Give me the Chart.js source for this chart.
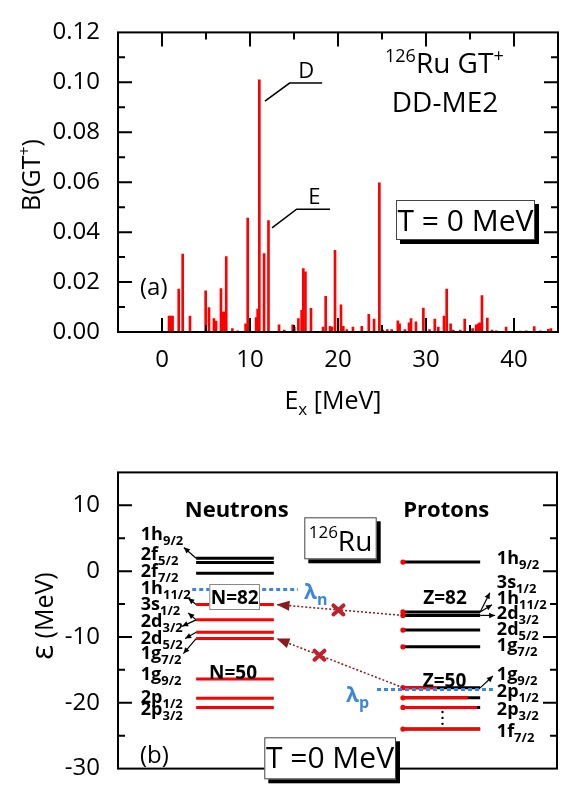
<!DOCTYPE html>
<html><head><meta charset="utf-8">
<script src="https://cdn.jsdelivr.net/npm/chart.js@4.4.0/dist/chart.umd.min.js"></script>
<style>
html,body{margin:0;padding:0;background:#fff;}
#wrap{position:relative;width:572px;height:801px;overflow:hidden;}
#c1{position:absolute;left:0;top:0;}
#c2{position:absolute;left:0;top:440px;}
</style></head><body>
<div id="wrap"><canvas id="c1" width="572" height="440"></canvas><canvas id="c2" width="572" height="361"></canvas></div>
<script>
// ---------------- DATA (panel a) ----------------
const excitationEnergies = [0.8,1.0,1.2,1.9,2.35,3.18,4.96,5.34,5.9,6.14,6.7,6.97,7.1,7.3,8.0,8.6,9.5,9.74,10.7,10.87,11.06,11.6,12.1,13.3,13.9,14.85,15.03,15.5,15.87,16.06,16.3,16.93,18.3,18.6,19.1,19.3,19.66,20.34,20.6,21.0,21.7,22.7,23.5,24.1,24.7,25.1,25.6,26.1,26.8,27.0,27.6,28.07,28.3,28.86,29.7,30.4,31.0,31.4,32.05,32.35,32.8,33.1,33.9,34.4,35.3,35.7,35.95,36.1,36.36,36.97,37.5,38.0,39.1,40.7,41.4,42.3,43.0,43.9,44.2];
const gtStrengths = [0.0064,0.0064,0.0064,0.0172,0.0312,0.0064,0.0165,0.0098,0.0054,0.0044,0.0174,0.008,0.008,0.0302,0.0014,0.0005,0.0033,0.0456,0.0058,0.0092,0.101,0.0314,0.0446,0.0029,0.0008,0.0029,0.002,0.0054,0.0087,0.0254,0.0241,0.0095,0.002,0.0143,0.0023,0.002,0.0327,0.0109,0.0023,0.001,0.002,0.0023,0.0071,0.0052,0.0597,0.0008,0.001,0.001,0.0045,0.0033,0.001,0.0037,0.0054,0.0041,0.0096,0.001,0.0052,0.002,0.0064,0.0172,0.0033,0.0008,0.0008,0.0052,0.0014,0.0029,0.0033,0.0037,0.0146,0.0056,0.0008,0.0005,0.002,0.0004,0.0005,0.0022,0.0005,0.0011,0.0014];
const topXTicks = [0,10,20,30,40];
const topYTicks = [0.00,0.02,0.04,0.06,0.08,0.10,0.12];

// ---------------- DATA (panel b) ----------------
const neutronEnergies   = [1.95,1.32,-0.33,-5.08,-7.4,-9.29,-10.24,-16.4,-19.3,-20.7];
const neutronOccupation = [0,0,0,1,1,1,1,1,1,1];
const protonEnergies    = [1.38,-6.2,-6.73,-8.96,-11.5,-17.7,-19.25,-20.7,-24.0];
const protonOccupation  = [0,0,0,0,0,0.44,0.84,0.96,1];
const neutronLabels = [['1h','9/2'],['2f','5/2'],['2f','7/2'],['1h','11/2'],['3s','1/2'],['2d','3/2'],['2d','5/2'],['1g','7/2'],['1g','9/2'],['2p','1/2'],['2p','3/2']];
const protonLabels  = [['1h','9/2'],['3s','1/2'],['1h','11/2'],['2d','3/2'],['2d','5/2'],['1g','7/2'],['1g','9/2'],['2p','1/2'],['2p','3/2'],['1f','7/2']];
const lambdaN = -2.8;
const lambdaP = -18.0;
// blocked transitions: proton level energy -> neutron level energy
const transitionFrom = [-6.73,-17.7];
const transitionTo   = [-5.08,-10.24];
const bottomYTicks = [-30,-20,-10,0,10];

// ---------------- LAYOUT (not data) ----------------
const FONT = "'Open Sans','DejaVu Sans',sans-serif";
const RED = '#ff0000', BLACK = '#000000', BLUE = '#3c86e0', DARKRED = '#8b1a1a', CROSS = '#c0212b';
const NX = [17.8,35.5];          // neutron level span (x units 0-100)
const PX = [64.9,82.5];          // proton level span
const LNX = [16.9,41.0];         // lambda_n dotted span
const LPX = [59.0,85.4];         // lambda_p dotted span
const neutronLabelY = [5.65,2.66,0.04,-2.56,-4.94,-7.5,-10.06,-12.33,-15.6,-19.02,-20.91];
const protonLabelY  = [2.06,-1.56,-4.08,-6.36,-8.78,-11.1,-15.6,-18.1,-20.8,-24.2];
const leftLabelX = 5.2, rightLabelX = 86.3;
const labelArrows = [
  [17.8,1.95,15.0,3.6],[17.8,-5.08,16.0,-4.13],[17.8,-7.4,16.0,-6.36],[17.8,-7.4,14.6,-8.39],
  [17.8,-9.29,15.3,-10.24],[17.8,-10.24,14.9,-12.52],
  [82.5,-6.2,84.7,-3.27],[82.5,-6.2,85.2,-5.12],[82.5,-6.73,85.9,-6.73],[82.5,-17.74,85.4,-15.93]
];
const crossT = [0.51,0.66];

function fnt(size,bold){return (bold?'bold ':'')+size+'px '+FONT;}
function rich(ctx,x,y,parts,align){
  let total=0;
  parts.forEach(p=>{ctx.font=fnt(p.s,p.b);p.w=ctx.measureText(p.t).width;total+=p.w;});
  let cx = align==='center'? x-total/2 : align==='right'? x-total : x;
  parts.forEach(p=>{ctx.font=fnt(p.s,p.b);ctx.fillStyle=p.c||'#000';ctx.textAlign='left';ctx.textBaseline='alphabetic';ctx.fillText(p.t,cx,y+(p.dy||0));cx+=p.w;});
}
function shadowBox(ctx,x0,y0,x1,y1,border){
  ctx.fillStyle='#000';ctx.fillRect(x0+4,y0+4,x1-x0,y1-y0);
  ctx.fillStyle='#fff';ctx.fillRect(x0,y0,x1-x0,y1-y0);
  ctx.strokeStyle=border||'#333';ctx.lineWidth=1;ctx.strokeRect(x0+0.5,y0+0.5,x1-x0-1,y1-y0-1);
}
function arrowHead(ctx,x1,y1,x2,y2,len,hw){
  const a=Math.atan2(y2-y1,x2-x1);
  ctx.beginPath();ctx.moveTo(x2,y2);
  ctx.lineTo(x2-len*Math.cos(a)+hw*Math.sin(a),y2-len*Math.sin(a)-hw*Math.cos(a));
  ctx.lineTo(x2-len*Math.cos(a)-hw*Math.sin(a),y2-len*Math.sin(a)+hw*Math.cos(a));
  ctx.closePath();ctx.fill();
}
function frameTicks(chart,o){
  const {ctx,chartArea:a,scales:{x,y}}=chart;
  ctx.save();ctx.strokeStyle='#000';ctx.lineWidth=2;
  ctx.strokeRect(a.left,a.top,a.right-a.left,a.bottom-a.top);
  ctx.beginPath();
  (o.xMaj||[]).forEach(v=>{const p=x.getPixelForValue(v);ctx.moveTo(p,a.bottom);ctx.lineTo(p,a.bottom-14);ctx.moveTo(p,a.top);ctx.lineTo(p,a.top+14);});
  (o.xMin||[]).forEach(v=>{const p=x.getPixelForValue(v);ctx.moveTo(p,a.bottom);ctx.lineTo(p,a.bottom-7);ctx.moveTo(p,a.top);ctx.lineTo(p,a.top+7);});
  (o.yMaj||[]).forEach(v=>{const p=y.getPixelForValue(v);ctx.moveTo(a.left,p);ctx.lineTo(a.left+14,p);ctx.moveTo(a.right,p);ctx.lineTo(a.right-14,p);});
  (o.yMin||[]).forEach(v=>{const p=y.getPixelForValue(v);ctx.moveTo(a.left,p);ctx.lineTo(a.left+7,p);ctx.moveTo(a.right,p);ctx.lineTo(a.right-7,p);});
  ctx.stroke();ctx.restore();
}

// ---------------- PANEL (a) ----------------
const topAnno = {
  D:{leader:[[11.7,0.0925],[14.5,0.0997],[18.2,0.0997]],label:[16.4,0.1049]},
  E:{leader:[[12.5,0.0417],[15.3,0.0492],[19.1,0.0492]],label:[17.3,0.0545]}
};
const topPlugin = {
  id:'topDeco',
  afterDatasetsDraw(chart){
    frameTicks(chart,{xMaj:topXTicks,xMin:[5,15,25,35],yMaj:[0.02,0.04,0.06,0.08,0.10],yMin:[0.01,0.03,0.05,0.07,0.09,0.11]});
    const {ctx,scales:{x,y}}=chart;
    ctx.save();
    ctx.strokeStyle='#000';ctx.lineWidth=1.5;
    Object.keys(topAnno).forEach(k=>{
      const an=topAnno[k];
      ctx.beginPath();
      an.leader.forEach((p,i)=>{const px=x.getPixelForValue(p[0]),py=y.getPixelForValue(p[1]);i?ctx.lineTo(px,py):ctx.moveTo(px,py);});
      ctx.stroke();
      rich(ctx,x.getPixelForValue(an.label[0]),y.getPixelForValue(an.label[1])+8,[{t:k,s:22}],'center');
    });
    rich(ctx,385,73,[{t:'126',s:18,dy:-11},{t:'Ru GT',s:28},{t:'+',s:18,dy:-11}],'left');
    rich(ctx,445,112,[{t:'DD-ME2',s:28}],'center');
    shadowBox(ctx,396,200,535,240,'#444');
    rich(ctx,465.5,231,[{t:'T = 0 MeV',s:30}],'center');
    rich(ctx,140,295,[{t:'(a)',s:24}],'left');
    // axis titles
    rich(ctx,333,409,[{t:'E',s:25},{t:'x',s:17,dy:6},{t:' [MeV]',s:25}],'center');
    ctx.save();ctx.translate(40,175);ctx.rotate(-Math.PI/2);
    rich(ctx,0,0,[{t:'B(GT',s:25},{t:'+',s:16,dy:-10},{t:')',s:25}],'center');
    ctx.restore();
    ctx.restore();
  }
};
new Chart(document.getElementById('c1'),{
  type:'bar',
  data:{datasets:[{data:excitationEnergies.map((e,i)=>({x:e,y:gtStrengths[i]})),backgroundColor:RED,borderWidth:0,barThickness:2}]},
  options:{
    responsive:false,animation:false,devicePixelRatio:1,
    layout:{padding:{left:0,right:14,top:15,bottom:0}},
    plugins:{legend:{display:false},tooltip:{enabled:false}},
    scales:{
      x:{type:'linear',min:-5,max:45,offset:false,grid:{display:false,drawTicks:false},border:{display:false},
         ticks:{font:{family:FONT,size:24},color:'#000',padding:14,maxRotation:0},
         afterBuildTicks(s){s.ticks=topXTicks.map(v=>({value:v}));},
         afterFit(s){s.height=108;}},
      y:{min:0,max:0.12,grid:{display:false,drawTicks:false},border:{display:false},
         ticks:{font:{family:FONT,size:24},color:'#000',padding:18,callback:v=>v.toFixed(2)},
         afterBuildTicks(s){s.ticks=topYTicks.map(v=>({value:v}));},
         afterFit(s){s.width=118;}}
    }
  },
  plugins:[topPlugin]
});

// ---------------- PANEL (b) ----------------
const ds=[];
neutronEnergies.forEach((e,i)=>{
  ds.push({data:[{x:NX[0],y:e},{x:NX[1],y:e}],borderColor:neutronOccupation[i]?RED:BLACK,borderWidth:3,pointRadius:0,showLine:true,order:5});
});
protonEnergies.forEach((e,i)=>{
  ds.push({data:[{x:PX[0],y:e},{x:PX[1],y:e}],borderColor:BLACK,borderWidth:3,pointRadius:0,showLine:true,order:6});
  const f=protonOccupation[i];
  if(f>0) ds.push({data:[{x:PX[0],y:e},{x:PX[0]+f*(PX[1]-PX[0]),y:e}],borderColor:RED,borderWidth:3,pointRadius:0,showLine:true,order:4});
  ds.push({data:[{x:PX[0],y:e}],pointRadius:2.6,pointBackgroundColor:RED,pointBorderWidth:0,showLine:false,order:3});
});
ds.push({data:[{x:LNX[0],y:lambdaN},{x:LNX[1],y:lambdaN}],borderColor:BLUE,borderWidth:3,borderDash:[4,3],pointRadius:0,showLine:true,order:2});
ds.push({data:[{x:LPX[0],y:lambdaP},{x:LPX[1],y:lambdaP}],borderColor:BLUE,borderWidth:3,borderDash:[4,3],pointRadius:0,showLine:true,order:2});
transitionFrom.forEach((e,i)=>{
  ds.push({data:[{x:PX[0],y:e},{x:NX[1]+0.6,y:transitionTo[i]}],borderColor:DARKRED,borderWidth:1.5,borderDash:[2,2],pointRadius:0,showLine:true,order:1});
});

const botPlugin = {
  id:'botDeco',
  afterDatasetsDraw(chart){
    frameTicks(chart,{yMaj:[-20,-10,0,10],yMin:[-25,-15,-5,5]});
    const {ctx,scales:{x,y}}=chart;
    const X=v=>x.getPixelForValue(v), Y=v=>y.getPixelForValue(v);
    ctx.save();
    // transition arrowheads and crosses
    transitionFrom.forEach((e,i)=>{
      const x1=X(PX[0]),y1=Y(e),x2=X(NX[1]+0.6),y2=Y(transitionTo[i]);
      ctx.fillStyle=DARKRED;arrowHead(ctx,x1,y1,x2,y2,13,5);
      const t=crossT[i];const cx=x1+(x2-x1)*t, cy=y1+(y2-y1)*t;
      ctx.strokeStyle=CROSS;ctx.lineWidth=4;ctx.lineCap='round';
      ctx.beginPath();ctx.moveTo(cx-5,cy-4.5);ctx.lineTo(cx+5,cy+4.5);ctx.moveTo(cx+5,cy-4.5);ctx.lineTo(cx-5,cy+4.5);ctx.stroke();
    });
    // label arrows
    ctx.strokeStyle='#000';ctx.fillStyle='#000';ctx.lineWidth=1.2;ctx.lineCap='butt';
    labelArrows.forEach(a=>{
      const x1=X(a[0]),y1=Y(a[1]),x2=X(a[2]),y2=Y(a[3]);
      ctx.beginPath();ctx.moveTo(x1,y1);ctx.lineTo(x2,y2);ctx.stroke();
      arrowHead(ctx,x1,y1,x2,y2,6,2.8);
    });
    // level labels
    neutronLabels.forEach((l,i)=>rich(ctx,X(leftLabelX),Y(neutronLabelY[i])+6.5,[{t:l[0],s:18,b:true},{t:l[1],s:13,b:true,dy:5}],'left'));
    protonLabels.forEach((l,i)=>rich(ctx,X(rightLabelX),Y(protonLabelY[i])+6.5,[{t:l[0],s:18,b:true},{t:l[1],s:13,b:true,dy:5}],'left'));
    // vertical dots
    ctx.fillStyle='#000';
    [-21.4,-22.3,-23.2].forEach(v=>{ctx.beginPath();ctx.arc(442.5,Y(v),1.2,0,Math.PI*2);ctx.fill();});
    // headers etc (page coords shifted by canvas top 440)
    ctx.translate(0,-440);
    rich(ctx,236.7,517,[{t:'Neutrons',s:22,b:true}],'center');
    rich(ctx,446.3,517,[{t:'Protons',s:22,b:true}],'center');
    shadowBox(ctx,304.3,517.3,376.7,559.3,'#444');
    rich(ctx,340.5,551,[{t:'126',s:17,dy:-13},{t:'Ru',s:28}],'center');
    ctx.fillStyle='#fff';ctx.fillRect(209.3,584,50.7,26);
    ctx.strokeStyle='#888';ctx.lineWidth=1;ctx.strokeRect(209.8,584.5,49.7,25);
    rich(ctx,234.7,604,[{t:'N=82',s:19,b:true}],'center');
    rich(ctx,445,603.5,[{t:'Z=82',s:19,b:true}],'center');
    rich(ctx,233,679,[{t:'N=50',s:19,b:true}],'center');
    rich(ctx,444.5,687,[{t:'Z=50',s:19,b:true}],'center');
    rich(ctx,304,599,[{t:'λ',s:21,b:true,c:BLUE},{t:'n',s:16,b:true,c:BLUE,dy:6}],'left');
    rich(ctx,346,702,[{t:'λ',s:21,b:true,c:BLUE},{t:'p',s:16,b:true,c:BLUE,dy:6}],'left');
    rich(ctx,140,763,[{t:'(b)',s:24}],'left');
    shadowBox(ctx,264.3,737.3,396,779.3,'#444');
    rich(ctx,330,768,[{t:'T =0 MeV',s:30}],'center');
    ctx.save();ctx.translate(53,616);ctx.rotate(-Math.PI/2);
    rich(ctx,0,0,[{t:'ε',s:31},{t:' (MeV)',s:25}],'center');
    ctx.restore();
    ctx.restore();
  }
};
new Chart(document.getElementById('c2'),{
  type:'scatter',
  data:{datasets:ds},
  options:{
    responsive:false,animation:false,devicePixelRatio:1,
    layout:{padding:{left:0,right:15,top:32,bottom:13}},
    plugins:{legend:{display:false},tooltip:{enabled:false}},
    elements:{line:{tension:0}},
    scales:{
      x:{type:'linear',min:0,max:100,display:false},
      y:{min:-30,max:15,grid:{display:false,drawTicks:false},border:{display:false},
         ticks:{font:{family:FONT,size:24},color:'#000',padding:18},
         afterBuildTicks(s){s.ticks=bottomYTicks.map(v=>({value:v}));},
         afterFit(s){s.width=118;}}
    }
  },
  plugins:[botPlugin]
});
</script>
</body></html>
